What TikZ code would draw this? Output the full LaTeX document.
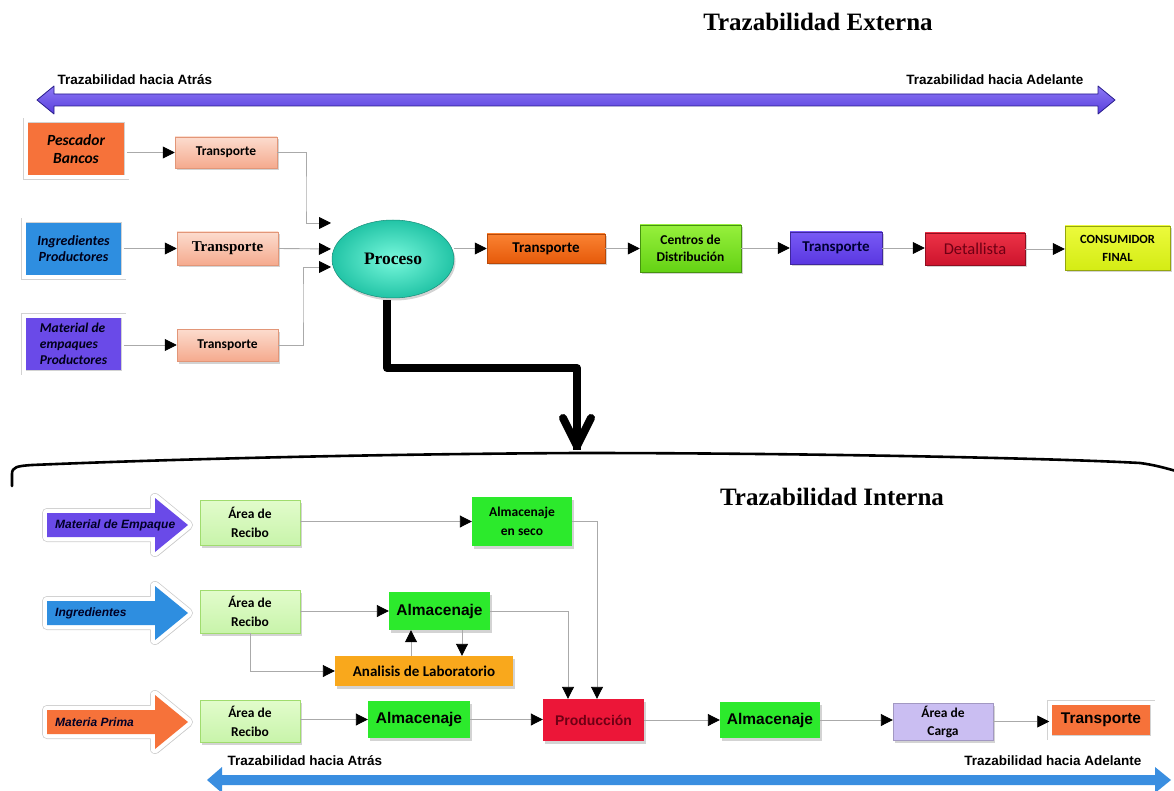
\documentclass[tikz,border=0pt]{standalone}
\usepackage{fontspec}
\setmainfont{Carlito}
\newfontfamily\arialf{Liberation Sans}
\newfontfamily\timesf{Liberation Serif}
\usetikzlibrary{arrows.meta,shapes.geometric,shadows}
\newcommand{\fsz}[2]{\fontsize{#1}{#2}\selectfont}
\definecolor{cOrange}{RGB}{246,114,58}
\definecolor{cSalmonT}{RGB}{252,220,206}
\definecolor{cSalmonB}{RGB}{245,170,142}
\definecolor{cSalmonD}{RGB}{226,150,120}
\definecolor{cBlue}{RGB}{46,142,224}
\definecolor{cPurple}{RGB}{106,74,232}
\definecolor{cTealIn}{RGB}{120,248,220}
\definecolor{cTealOut}{RGB}{34,196,166}
\definecolor{cTealD}{RGB}{24,140,120}
\definecolor{cOrT}{RGB}{250,130,50}
\definecolor{cOrB}{RGB}{230,90,10}
\definecolor{cGrT}{RGB}{150,240,60}
\definecolor{cGrB}{RGB}{100,210,20}
\definecolor{cPuT}{RGB}{120,90,245}
\definecolor{cPuB}{RGB}{90,55,225}
\definecolor{cRdT}{RGB}{236,50,70}
\definecolor{cRdB}{RGB}{205,20,45}
\definecolor{cYlT}{RGB}{236,250,60}
\definecolor{cYlB}{RGB}{212,236,20}
\definecolor{cDarkRed}{RGB}{110,0,20}
\definecolor{cBigPuT}{RGB}{140,120,245}
\definecolor{cBigPuB}{RGB}{88,62,220}
\definecolor{cBigPuD}{RGB}{40,28,140}
\definecolor{cLBlue}{RGB}{58,142,224}
\definecolor{cRecT}{RGB}{226,252,204}
\definecolor{cRecB}{RGB}{200,244,170}
\definecolor{cRecD}{RGB}{160,220,110}
\definecolor{cGreen}{RGB}{44,234,44}
\definecolor{cAmber}{RGB}{249,168,28}
\definecolor{cProd}{RGB}{236,22,56}
\definecolor{cLav}{RGB}{202,190,242}
\definecolor{cConn}{RGB}{170,170,170}
\begin{document}
\begin{tikzpicture}[x=1pt,y=-1pt,
  conn/.style={draw=cConn, line width=0.9pt},
  arr/.style={-{Triangle[length=12pt,width=12pt,color=black]}},
  shad/.style={drop shadow={shadow xshift=1.5pt, shadow yshift=-2.5pt, opacity=0.35}},
  bx/.style={rectangle, align=center, inner sep=1pt, shad},
  frame/.style={bx, draw=gray!35, double=white, double distance=4pt, line width=0.5pt},
  salmon/.style={bx, top color=cSalmonT, bottom color=cSalmonB, draw=cSalmonD, line width=0.5pt},
  lab/.style={font=\arialf\bfseries\fsz{13.5}{16}},
  ital/.style={font=\bfseries\itshape\fsz{14}{16}},
  cb/.style={font=\bfseries\fsz{13.5}{18}},
  ab/.style={font=\arialf\bfseries\fsz{15.5}{18}},
  arrlab/.style={font=\arialf\bfseries\itshape\fsz{12}{14}, text=black!85!blue, anchor=west, inner sep=0pt}
]
\useasboundingbox (0,0) rectangle (1174,791);

% ---------- titles ----------
\node[font=\timesf\bfseries\fsz{25}{28}] (tExt) at (818,22) {Trazabilidad Externa};
\node[font=\timesf\bfseries\fsz{25}{28}] (tInt) at (832,497) {Trazabilidad Interna};

% ---------- top double arrow ----------
\path[top color=cBigPuT, bottom color=cBigPuB, draw=cBigPuD, line width=0.8pt, line join=round]
  (37,100) -- (54,86) -- (54,94) -- (1098,94) -- (1098,86) -- (1115,100)
  -- (1098,114) -- (1098,106) -- (54,106) -- (54,114) -- cycle;
\node[lab, anchor=west] (la1) at (54,80) {Trazabilidad hacia Atrás};
\node[lab, anchor=east] (la2) at (1087,80) {Trazabilidad hacia Adelante};

% ---------- sources ----------
\node[frame, fill=cOrange, minimum width=101, minimum height=57, ital, font=\bfseries\itshape\fsz{15.5}{18}] (pesc) at (76,149) {Pescador\\Bancos};
\node[frame, fill=cBlue, minimum width=100, minimum height=57, ital, text=black!90!blue] (ing) at (73.5,249) {Ingredientes\\Productores};
\node[frame, fill=cPurple, minimum width=100, minimum height=57, ital, font=\bfseries\itshape\fsz{13.5}{16}, align=left, text=black!90!blue] (mat) at (73.5,344) {Material de\\empaques\\Productores};

\node[salmon, minimum width=102, minimum height=31, cb] (t1) at (226,152.5) {Transporte};
\node[salmon, minimum width=101, minimum height=33, font=\timesf\bfseries\fsz{15}{18}] (t2) at (227.5,248.5) {Transporte};
\node[salmon, minimum width=101, minimum height=32, cb] (t3) at (227.5,345) {Transporte};

\node[ellipse, minimum width=122, minimum height=78, inner color=cTealIn, outer color=cTealOut, draw=cTealD, line width=0.5pt, shad, font=\timesf\bfseries\fsz{17.5}{20}] (proc) at (393,259) {Proceso};

\coordinate (in1) at (331,223);
\coordinate (in2) at (331,249);
\coordinate (in3) at (331,267);

\draw[conn, arr] (pesc.east |- t1.west) -- (t1.west);
\draw[conn, arr] (ing.east |- t2.west) -- (t2.west);
\draw[conn, arr] (mat.east |- t3.west) -- (t3.west);
\draw[conn, arr] (t1.east) -| (306,200) |- (in1);
\draw[conn, arr] (t2.east) -- (in2);
\draw[conn, arr] (t3.east) -| (303,300) |- (in3);

% ---------- forward chain ----------
\node[bx, top color=cOrT, bottom color=cOrB, draw=cOrB!80!black, line width=0.5pt, minimum width=118, minimum height=29, font=\bfseries\fsz{15}{18}] (tr1) at (546,248.5) {Transporte};
\node[bx, top color=cGrT, bottom color=cGrB, draw=cGrB!70!black, line width=0.5pt, minimum width=101, minimum height=47, font=\bfseries\fsz{13.5}{17}] (cen) at (690.5,248.5) {Centros de\\Distribución};
\node[bx, top color=cPuT, bottom color=cPuB, draw=cPuB!70!black, line width=0.5pt, minimum width=92, minimum height=32, font=\bfseries\fsz{15}{18}, text=black!80!blue] (tr2) at (836,248) {Transporte};
\node[bx, top color=cRdT, bottom color=cRdB, draw=cRdB!70!black, line width=0.5pt, minimum width=100, minimum height=32, font=\fsz{16.5}{18}, text=cDarkRed] (det) at (975,249) {Detallista};
\node[bx, top color=cYlT, bottom color=cYlB, draw=cYlB!70!black, line width=0.5pt, minimum width=105, minimum height=44, font=\bfseries\fsz{12.5}{18}] (con) at (1117.5,248) {CONSUMIDOR\\FINAL};

\draw[conn, arr] (tr1.west -| proc.east) -- (tr1.west);
\draw[conn, arr] (tr1.east) -- (tr1.east -| cen.west);
\draw[conn, arr] (cen.east |- tr2.west) -- (tr2.west);
\draw[conn, arr] (tr2.east) -- (tr2.east -| det.west);
\draw[conn, arr] (det.east) -- (det.east -| con.west);

% ---------- thick arrow down ----------
\coordinate (tipA) at (577,446);
\draw[line width=8pt, line join=round] ([xshift=-6pt,yshift=-2pt]proc.south) |- (577,368) -- ([yshift=-4pt]tipA);
\draw[line width=8pt, line join=round, line cap=round] (563,418) -- (tipA) -- (591,418);

% ---------- brace line ----------
\draw[line width=2.6pt, line cap=round] (12,486) -- (12,474) .. controls (12,467) and (17,466) .. (32,465)
  .. controls (200,458) and (400,454) .. (577,453)
  .. controls (800,453) and (1050,458) .. (1140,463)
  .. controls (1155,465) and (1165,468) .. (1176,471);

% ---------- block arrows (internal) ----------
\newcommand{\myblockarrow}[2]{%
  \path[fill=black, opacity=0.22, shift={(3,4)}] (47,#1-12) -- (155,#1-12) -- (155,#1-27) -- (188,#1) -- (155,#1+27) -- (155,#1+12) -- (47,#1+12) -- cycle;
  \path[draw=gray!40, line width=10pt, line join=round] (47,#1-12) -- (155,#1-12) -- (155,#1-27) -- (188,#1) -- (155,#1+27) -- (155,#1+12) -- (47,#1+12) -- cycle;
  \path[draw=white, line width=8.5pt, line join=round] (47,#1-12) -- (155,#1-12) -- (155,#1-27) -- (188,#1) -- (155,#1+27) -- (155,#1+12) -- (47,#1+12) -- cycle;
  \path[fill=#2] (47,#1-12) -- (155,#1-12) -- (155,#1-27) -- (188,#1) -- (155,#1+27) -- (155,#1+12) -- (47,#1+12) -- cycle;
}
\myblockarrow{525}{cPurple}
\myblockarrow{613}{cBlue}
\myblockarrow{722}{cOrange}
\node[arrlab] (aMat) at (55,525) {Material de Empaque};
\node[arrlab] (aIng) at (55,613) {Ingredientes};
\node[arrlab] (aPri) at (55,722) {Materia Prima};

% ---------- internal boxes ----------
\node[bx, top color=cRecT, bottom color=cRecB, draw=cRecD, line width=0.8pt, minimum width=100, minimum height=45, font=\bfseries\fsz{13.5}{19}] (rec1) at (250,522.5) {Área de\\Recibo};
\node[bx, top color=cRecT, bottom color=cRecB, draw=cRecD, line width=0.8pt, minimum width=100, minimum height=43, font=\bfseries\fsz{13.5}{19}] (rec2) at (250,611.5) {Área de\\Recibo};
\node[bx, top color=cRecT, bottom color=cRecB, draw=cRecD, line width=0.8pt, minimum width=100, minimum height=42, font=\bfseries\fsz{13.5}{19}] (rec3) at (250,721) {Área de\\Recibo};

\node[bx, fill=cGreen, minimum width=100, minimum height=49, font=\bfseries\fsz{13.5}{19}] (seco) at (522,521.5) {Almacenaje\\en seco};
\node[bx, fill=cGreen, minimum width=101, minimum height=38, ab] (alm2) at (439.5,611) {Almacenaje};
\node[bx, fill=cAmber, minimum width=178, minimum height=30, font=\bfseries\fsz{15}{18}] (ana) at (424,671) {Analisis de Laboratorio};
\node[bx, fill=cGreen, minimum width=102, minimum height=37, ab] (alm3) at (419,719.5) {Almacenaje};
\node[bx, fill=cProd, minimum width=101, minimum height=42, font=\arialf\bfseries\fsz{14}{17}, text=cDarkRed] (prod) at (593.5,720) {Producción};
\node[bx, fill=cGreen, minimum width=100, minimum height=36, ab] (alm4) at (770,720) {Almacenaje};
\node[bx, fill=cLav, draw=cLav!80!black, line width=0.4pt, minimum width=100, minimum height=37, font=\bfseries\fsz{13.5}{18}] (carga) at (943,721.5) {Área de\\Carga};
\node[frame, fill=cOrange, minimum width=103, minimum height=35, ab] (trb) at (1101,720) {Transporte};

% ---------- internal connectors ----------
\draw[conn, arr] (rec1.east |- seco.west) -- (seco.west);
\draw[conn, arr] (seco.east) -| ([xshift=3.5pt]prod.north);
\draw[conn, arr] (rec2.east |- alm2.west) -- (alm2.west);
\draw[conn, arr] (alm2.east) -| ([xshift=-25.5pt]prod.north);
\draw[conn, arr] (rec2.south) |- (ana.west);
\draw[conn, arr] ([xshift=-13pt]ana.north) -- ([xshift=-13pt]ana.north |- alm2.south);
\draw[conn, arr] ([xshift=22.5pt]alm2.south) -- ([xshift=22.5pt]alm2.south |- ana.north);
\draw[conn, arr] (rec3.east |- alm3.west) -- (alm3.west);
\draw[conn, arr] (alm3.east) -- (alm3.east -| prod.west);
\draw[conn, arr] (prod.east) -- (prod.east -| alm4.west);
\draw[conn, arr] (alm4.east) -- (alm4.east -| carga.west);
\draw[conn, arr] (carga.east) -- (carga.east -| trb.west);

% ---------- bottom double arrow ----------
\path[fill=cLBlue, line join=round]
  (207,780) -- (222,767) -- (222,775) -- (1155,775) -- (1155,767) -- (1171,780)
  -- (1155,793) -- (1155,785) -- (222,785) -- (222,793) -- cycle;
\node[lab, anchor=west] (lb1) at (224,761) {Trazabilidad hacia Atrás};
\node[lab, anchor=east] (lb2) at (1145,761) {Trazabilidad hacia Adelante};
\end{tikzpicture}
\end{document}
